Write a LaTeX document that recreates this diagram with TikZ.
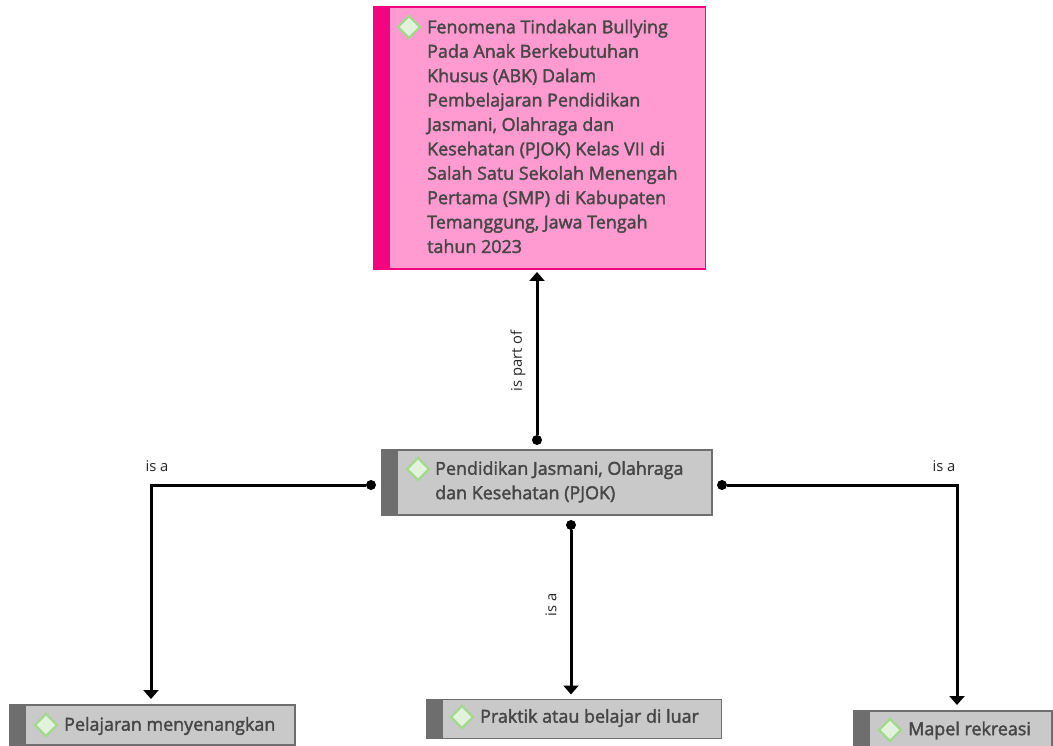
\documentclass[tikz,border=0pt]{standalone}
\usepackage{fontspec}
\setmainfont{Open Sans}
\newfontfamily\lightlab{Open Sans}
\newfontfamily\heavy[FakeBold=2.0]{Open Sans}
\usetikzlibrary{shapes.geometric,arrows.meta}
\definecolor{txt}{HTML}{464646}
\definecolor{grayfill}{HTML}{C9C9C9}
\definecolor{grayedge}{HTML}{6E6E6E}
\definecolor{pinkfill}{HTML}{FF9BD0}
\definecolor{pinkedge}{HTML}{F5047F}
\definecolor{diaedge}{HTML}{A3D98F}
\definecolor{diafill}{HTML}{E3F2DD}
\tikzset{
  x=1pt,y=-1pt,
  boxg/.style={draw=grayedge,line width=1.6pt,fill=grayfill,anchor=north west,inner sep=0pt,outer sep=0pt},
  boxp/.style={draw=pinkedge,line width=1.6pt,fill=pinkfill,anchor=north west,inner sep=0pt,outer sep=0pt},
  stripeg/.style={fill=grayedge,anchor=north west,inner sep=0pt,minimum width=16.5pt},
  stripep/.style={fill=pinkedge,anchor=north west,inner sep=0pt,minimum width=17pt},
  dia/.style={diamond,draw=diaedge,fill=diafill,line width=2.4pt,minimum width=23pt,minimum height=23pt,inner sep=0pt},
  ttext/.style={anchor=west,align=left,inner sep=0pt,text=txt,font=\heavy\fontsize{17.9}{24.4}\selectfont},
  lab/.style={inner sep=0pt,text=black!85,font=\lightlab\fontsize{14.8}{16}\selectfont},
  dot/.style={circle,fill=black,inner sep=0pt,minimum size=10pt},
  conn/.style={line width=3pt,-{Triangle[width=15pt,length=9pt]}},
}
\begin{document}
\begin{tikzpicture}
\useasboundingbox (0,0) rectangle (1053,746);
% boxes
\node[boxp,minimum width=332pt,minimum height=262pt] (top) at (373.5,7) {};
\node[stripep,minimum height=262pt] at (373,7) {};
\node[boxg,minimum width=330pt,minimum height=65pt] (mid) at (382,450) {};
\node[stripeg,minimum height=66pt] at (381.5,449.5) {};
\node[boxg,minimum width=285pt,minimum height=40pt] (left) at (10,705) {};
\node[stripeg,minimum height=41pt] at (9.5,704.5) {};
\node[boxg,minimum width=295pt,minimum height=39pt] (center) at (426.5,699.5) {};
\node[stripeg,minimum height=40pt] at (426,699) {};
\node[boxg,minimum width=198pt,minimum height=40pt] (right) at (854,711) {};
\node[stripeg,minimum height=41pt] at (853.5,710.5) {};
% diamonds
\node[dia] (d1) at (409,27) {};
\node[dia] (d2) at (418,469) {};
\node[dia] (d3) at (46,725) {};
\node[dia] (d4) at (462,717) {};
\node[dia] (d5) at (890,730) {};
% texts
\node[ttext,anchor=north west] (t1) at (427,19.5) {Fenomena Tindakan Bullying\\Pada Anak Berkebutuhan\\Khusus (ABK) Dalam\\Pembelajaran Pendidikan\\Jasmani, Olahraga dan\\Kesehatan (PJOK) Kelas VII di\\Salah Satu Sekolah Menengah\\Pertama (SMP) di Kabupaten\\Temanggung, Jawa Tengah\\tahun 2023};
\node[ttext,anchor=north west] (t2) at (435,461) {Pendidikan Jasmani, Olahraga\\dan Kesehatan (PJOK)};
\node[ttext] (t3) at (64,726) {Pelajaran menyenangkan};
\node[ttext] (t4) at (480,718) {Praktik atau belajar di luar};
\node[ttext] (t5) at (908,730.5) {Mapel rekreasi};
% connector origins
\node[dot] (o1) at (537,440) {};
\node[dot] (o2) at (371,485) {};
\node[dot] (o3) at (571,525) {};
\node[dot] (o4) at (722,485) {};
\coordinate (e2) at (151,699);
\coordinate (e4) at (957,705);
\draw[conn,shorten >=3pt] (o1) -- (o1 |- top.south);
\draw[conn] (o2) -| (e2);
\draw[conn,shorten >=5pt] (o3) -- (o3 |- center.north);
\draw[conn] (o4) -| (e4);
% labels
\node[lab,rotate=90] (l1) at (518,361) {is part of};
\node[lab] (l2) at (157,466) {is a};
\node[lab,rotate=90] (l3) at (551,605) {is a};
\node[lab] (l4) at (944,466) {is a};
\end{tikzpicture}
\end{document}
